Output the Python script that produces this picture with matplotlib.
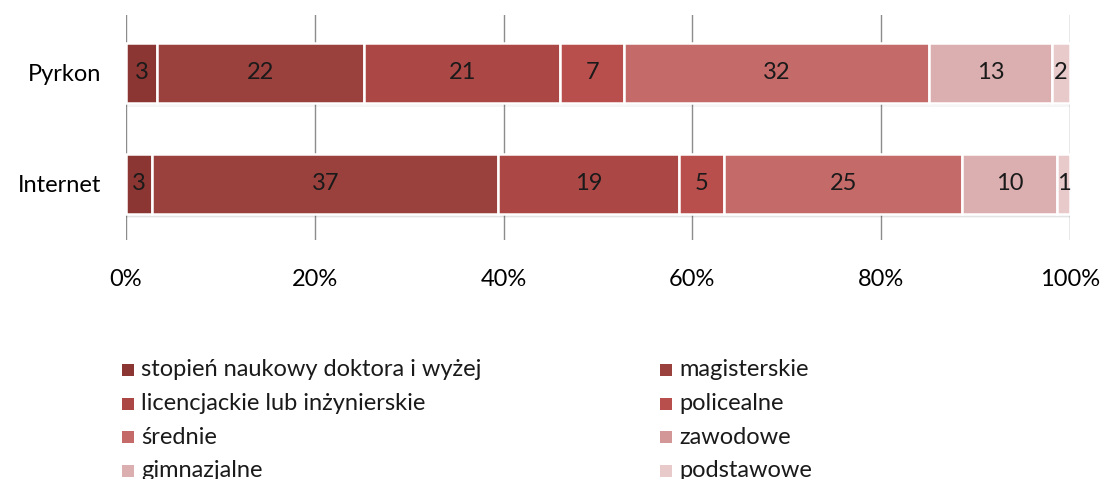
import matplotlib
matplotlib.use("Agg")
import matplotlib.pyplot as plt
from matplotlib.patches import Rectangle
import numpy as np

categories = ["stopień naukowy doktora i wyżej", "magisterskie",
              "licencjackie lub inżynierskie", "policealne",
              "średnie", "zawodowe", "gimnazjalne", "podstawowe"]
groups = ["Internet", "Pyrkon"]
# shares in %, same order as categories
internet = [2.8, 36.6, 19.2, 4.8, 25.2, 0.0, 10.0, 1.4]
pyrkon = [3.3, 21.9, 20.8, 6.8, 32.3, 0.0, 13.0, 1.9]
values = {"Internet": internet, "Pyrkon": pyrkon}
colors = ["#8B3633", "#9A403D", "#AB4846", "#B94F4C",
          "#C46A69", "#D49797", "#DBAEAF", "#E8CACA"]
xticks = [0, 20, 40, 60, 80, 100]
xticklabels = ["0%", "20%", "40%", "60%", "80%", "100%"]

font = ["Lato", "DejaVu Sans"]
plt.rcParams['font.family'] = font
FS = 17

W, H = 1104, 479
fig = plt.figure(figsize=(W / 100, H / 100), dpi=100)
ax = fig.add_axes([126 / W, 1 - 240 / H, (1070 - 126) / W, (240 - 15) / H])

ypos = np.arange(len(groups))
bar_h = 0.54
for gi, g in enumerate(groups):
    vals = np.array(values[g], dtype=float)
    pct = vals / vals.sum() * 100
    left = 0.0
    for k, a in enumerate([0.10, 0.07, 0.04]):
        ax.barh(ypos[gi] - 0.012 * (k + 1), 100, height=bar_h, left=0,
                color="black", alpha=a, linewidth=0, zorder=1)
    for ci, (v, p) in enumerate(zip(vals, pct)):
        if v > 0:
            ax.barh(ypos[gi], p, left=left, height=bar_h, color=colors[ci],
                    edgecolor="white", linewidth=1.8, zorder=2)
            ax.text(left + p / 2, ypos[gi], f"{v:.0f}", ha="center", va="center",
                    fontsize=FS, color="#1a1a1a", zorder=3)
        left += p

ax.set_xlim(0, 100)
ax.set_ylim(-0.505, 1.52)
ax.set_xticks(xticks)
ax.set_xticklabels(xticklabels, fontsize=FS)
ax.set_yticks(ypos)
ax.set_yticklabels(groups, fontsize=FS)
ax.tick_params(axis="x", length=0, pad=21)
ax.tick_params(axis="y", length=0, pad=18)
ax.grid(axis="x", color="#8c8c8c", linewidth=1, zorder=0)
ax.set_axisbelow(True)
for s in ax.spines.values():
    s.set_visible(False)

col_x = [122, 660]
for i, cat in enumerate(categories):
    row, col = divmod(i, 2)
    yc = 370 + row * 33.5
    x = col_x[col]
    fig.patches.append(Rectangle((x / W, 1 - (yc + 6) / H), 12 / W, 12 / H,
                                 transform=fig.transFigure, facecolor=colors[i],
                                 edgecolor="none"))
    fig.text((x + 19) / W, 1 - yc / H, cat, fontsize=FS, va="center", ha="left",
             color="#1a1a1a")

fig.savefig("out.png", dpi=100)
